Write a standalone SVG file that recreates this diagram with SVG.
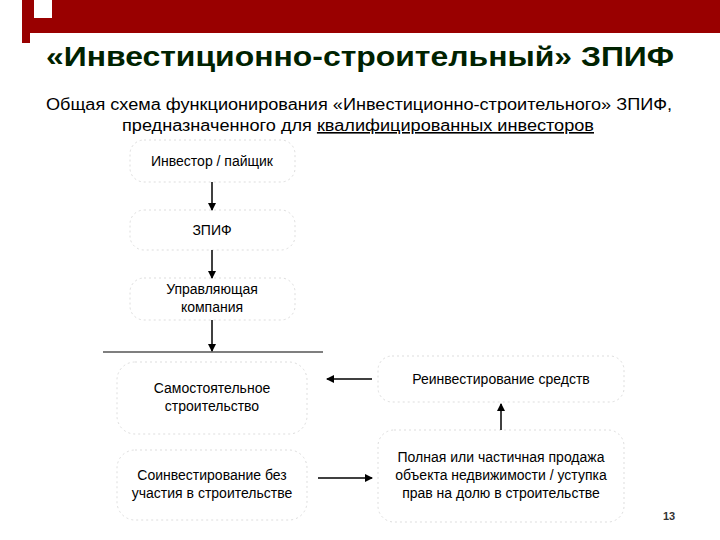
<svg xmlns="http://www.w3.org/2000/svg" width="720" height="540" viewBox="0 0 720 540">
<style>
text{font-family:"Liberation Sans",Arial,sans-serif;fill:#000}
.n{font-size:14px;text-anchor:middle}
.box{fill:none;stroke:#ddd;stroke-width:1;stroke-dasharray:2 3}
.c{stroke:#000;stroke-width:1.5;fill:none;marker-end:url(#a)}
</style>
<defs><marker id="a" markerWidth="8" markerHeight="8" refX="7" refY="4" orient="auto" markerUnits="userSpaceOnUse"><path d="M0,0 L8,4 L0,8 Z" fill="#000"/></marker></defs>
<rect x="22" y="0" width="698" height="33" fill="#990000"/>
<rect x="34" y="0" width="18" height="18" fill="#fff"/>
<rect x="22" y="33" width="8" height="10" fill="#990000"/>
<text x="46" y="66" textLength="628" lengthAdjust="spacingAndGlyphs" style="font-size:27px;font-weight:bold;fill:#002200">«Инвестиционно-строительный» ЗПИФ</text>
<text x="46" y="110" textLength="626" lengthAdjust="spacingAndGlyphs" style="font-size:16px">Общая схема функционирования «Инвестиционно-строительного» ЗПИФ,</text>
<text x="122" y="131" textLength="472" lengthAdjust="spacingAndGlyphs" style="font-size:16px">предназначенного для <tspan text-decoration="underline">квалифицированных инвесторов</tspan></text>
<g id="n1"><rect class="box" x="130" y="140" width="165" height="42" rx="14"/><text class="n" x="212" y="166">Инвестор / пайщик</text></g>
<g id="n2"><rect class="box" x="130" y="210" width="165" height="40" rx="14"/><text class="n" x="212" y="235">ЗПИФ</text></g>
<g id="n3"><rect class="box" x="130" y="278" width="165" height="42" rx="14"/><text class="n" x="212" y="294">Управляющая</text><text class="n" x="212" y="312">компания</text></g>
<g id="n4"><rect class="box" x="117" y="362" width="190" height="72" rx="18"/><text class="n" x="212" y="393">Самостоятельное</text><text class="n" x="212" y="411">строительство</text></g>
<g id="n5"><rect class="box" x="117" y="450" width="190" height="70" rx="18"/><text class="n" x="212" y="480">Соинвестирование без</text><text class="n" x="212" y="498">участия в строительстве</text></g>
<g id="n6"><rect class="box" x="378" y="356" width="246" height="46" rx="14"/><text class="n" x="501" y="384">Реинвестирование средств</text></g>
<g id="n7"><rect class="box" x="378" y="430" width="246" height="92" rx="16"/><text class="n" x="501" y="462">Полная или частичная продажа</text><text class="n" x="501" y="480">объекта недвижимости / уступка</text><text class="n" x="501" y="498">прав на долю в строительстве</text></g>
<g id="connectors">
<path class="c" d="M212,182 V210"/>
<path class="c" d="M212,250 V278"/>
<path class="c" d="M212,320 V351"/>
<path d="M103,352 H323" stroke="#000" stroke-width="1.2"/>
<path class="c" d="M372,379 H327"/>
<path class="c" d="M501,430 V404"/>
<path class="c" d="M318,478 H372"/>
</g>
<text x="669" y="520" class="n" style="font-size:11px;font-weight:bold;fill:#333">13</text>
</svg>
